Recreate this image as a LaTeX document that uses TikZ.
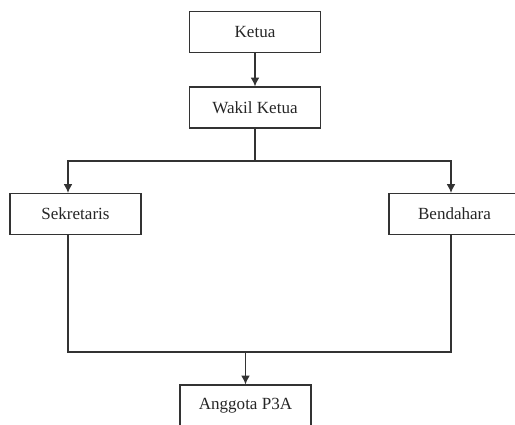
\documentclass[tikz,border=0pt]{standalone}
\usepackage{fontspec}
\setmainfont{Liberation Serif}
\usetikzlibrary{positioning}
\usetikzlibrary{arrows.meta}
\tikzset{
    boxnode/.style = {rectangle, draw=black!80, line width=0.7pt, align=center, minimum width=2.62cm, minimum height=0.82cm, font=\fontsize{9.7}{11}\selectfont, text=black!85},
    edgen/.style = {-, line width=0.7pt, black!80},
    edgea/.style = {-{Latex[length=5pt,width=5pt]}, line width=0.7pt, black!80},
}
\begin{document}
\begin{tikzpicture}[x=0.02cm,y=-0.02cm]
\useasboundingbox (0,0) rectangle (515,425);
\clip (0,0) rectangle (515,425);
\node[boxnode] at (255.0,  32.0) (ketua) {Ketua};
\node[boxnode] at (255.0, 107.5) (wakil) {Wakil Ketua};
\node[boxnode] at ( 75.5, 214.0) (sekretaris) {Sekretaris};
\node[boxnode] at (454.5, 214.0) (bendahara) {Bendahara};
\node[boxnode] at (245.5, 405.5) (anggota) {Anggota P3A};

\coordinate (split) at (255,161);
\coordinate (splitl) at (68,161);
\coordinate (splitr) at (451,161);
\coordinate (joinl) at (68,352);
\coordinate (joinr) at (451,352);
\coordinate (join) at (245.5,352);

\draw[edgea] (ketua) -- (wakil);
\draw[edgen] (wakil) -- (split);
\draw[edgea] (split) -- (splitl) -- (splitl |- sekretaris.north);
\draw[edgea] (split) -- (splitr) -- (splitr |- bendahara.north);
\draw[edgen] (sekretaris.south -| joinl) -- (joinl) -- (joinr) -- (bendahara.south -| joinr);
\draw[edgea] (join) -- (anggota);

\end{tikzpicture}
\end{document}
